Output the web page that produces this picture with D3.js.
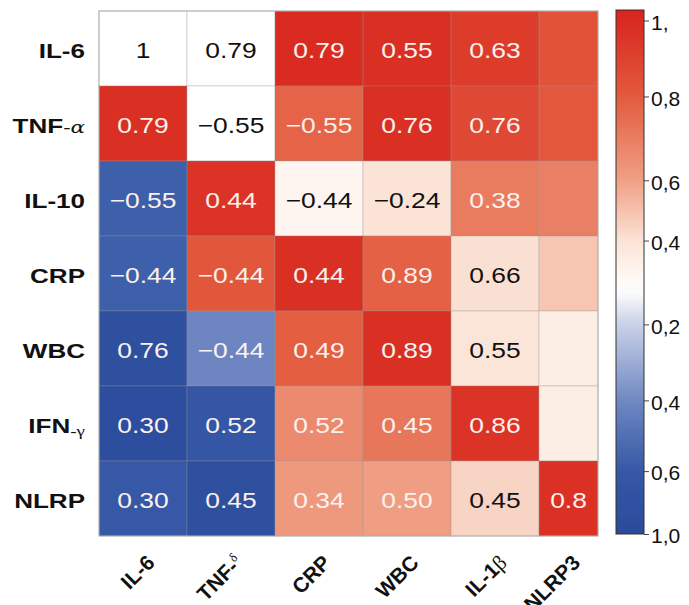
<!DOCTYPE html>
<html>
<head>
<meta charset="utf-8">
<script src="https://cdn.jsdelivr.net/npm/d3@7"></script>
<style>
  html, body { margin: 0; padding: 0; background: #ffffff; }
  svg { display: block; }
  text { font-family: "Liberation Sans", Arial, Helvetica, sans-serif; }
</style>
</head>
<body>
<div id="chart"></div>
<script>
// ---------------- DATA ----------------
const rowNames = ["IL-6", "TNF", "IL-10", "CRP", "WBC", "IFN", "NLRP"];
const rowSuffix = ["", "-α", "", "", "", "-γ", ""];
const colNames = ["IL-6", "TNF-", "CRP", "WBC", "IL-1", "NLRP3"];
const colSuffix = ["", "δ", "", "", "β", ""];

// printed numbers in each cell (row by row)
const cellLabels = [
  ["1", "0.79", "0.79", "0.55", "0.63", ""],
  ["0.79", "−0.55", "−0.55", "0.76", "0.76", ""],
  ["−0.55", "0.44", "−0.44", "−0.24", "0.38", ""],
  ["−0.44", "−0.44", "0.44", "0.89", "0.66", ""],
  ["0.76", "−0.44", "0.49", "0.89", "0.55", ""],
  ["0.30", "0.52", "0.52", "0.45", "0.86", ""],
  ["0.30", "0.45", "0.34", "0.50", "0.45", "0.8"]
];

// colour value of each cell
const cellColorValues = [
  [-0.07, -0.07, 0.95, 0.93, 0.85, 0.72],
  [0.93, -0.07, 0.63, 0.93, 0.78, 0.68],
  [-0.72, 0.90, 0.0, 0.12, 0.52, 0.50],
  [-0.72, 0.69, 0.93, 0.64, 0.13, 0.22],
  [-0.92, -0.50, 0.65, 0.93, 0.11, 0.05],
  [-0.95, -0.80, 0.45, 0.54, 0.90, 0.05],
  [-0.76, -0.92, 0.38, 0.36, 0.17, 0.92]
];

// colour bar ticks (positions in colour value units) and their printed labels
const barTickValues = [0.96, 0.67, 0.35, 0.12, -0.2, -0.49, -0.76, -1.0];
const barTickLabels = ["1,", "0,8", "0,6", "0,4", "0,2", "0,4", "0,6", "1,0"];

// colour ramp stops
const rampValues = [-1, -0.76, -0.49, -0.2, -0.07, 0.12, 0.35, 0.67, 1];
const rampColors = ["#2b4a9c", "#3658a6", "#6f88c2", "#c9d1e8", "#ffffff", "#fbe3d6", "#efa085", "#e35a3e", "#d8231c"];

// ---------------- LAYOUT ----------------
const W = 689, H = 605;
const plot = { left: 99, right: 598, top: 11, bottom: 536 };
const lastColWidth = 0.67;  // last column is narrower
const bar = { left: 616, right: 644, top: 10, bottom: 534 };

const svg = d3.select("#chart").append("svg")
  .attr("width", W).attr("height", H);

const color = d3.scaleLinear().domain(rampValues).range(rampColors).clamp(true);

const x = d3.scaleLinear()
  .domain([0, colNames.length - 1 + lastColWidth])
  .range([plot.left, plot.right]);
const colStart = i => x(i);
const colEnd = i => x(Math.min(i + 1, colNames.length - 1 + lastColWidth));

const y = d3.scaleBand()
  .domain(d3.range(rowNames.length))
  .range([plot.top, plot.bottom])
  .padding(0);

const cells = [];
cellColorValues.forEach((row, r) => row.forEach((v, c) => {
  cells.push({ r, c, v, label: cellLabels[r][c] });
}));

const g = svg.append("g");

g.selectAll("rect.cell").data(cells).join("rect")
  .attr("class", "cell")
  .attr("x", d => colStart(d.c))
  .attr("y", d => y(d.r))
  .attr("width", d => colEnd(d.c) - colStart(d.c))
  .attr("height", y.bandwidth())
  .attr("fill", d => color(d.v))
  .attr("stroke", "rgba(150,150,150,0.35)")
  .attr("stroke-width", 1);

// outer frame
g.append("rect")
  .attr("x", plot.left).attr("y", plot.top)
  .attr("width", plot.right - plot.left).attr("height", plot.bottom - plot.top)
  .attr("fill", "none").attr("stroke", "#b0b0b0").attr("stroke-width", 1);

// cell numbers
const stretch = 1.2;
g.selectAll("text.num").data(cells.filter(d => d.label !== "")).join("text")
  .attr("class", "num")
  .attr("transform", d => {
    const cx = (colStart(d.c) + colEnd(d.c)) / 2;
    const cy = y(d.r) + y.bandwidth() / 2 + 9.5;
    return `translate(${cx},${cy}) scale(${stretch},1)`;
  })
  .attr("text-anchor", "middle")
  .attr("font-size", 22)
  .attr("fill", d => (d.v > -0.3 && d.v < 0.28) ? "#111111" : "#fbf1ee")
  .text(d => d.label);

// row labels
const rowLab = g.selectAll("text.rowlab").data(rowNames).join("text")
  .attr("class", "rowlab")
  .attr("transform", (d, i) => `translate(85,${y(i) + y.bandwidth() / 2 + 9.5}) scale(1.27,1)`)
  .attr("text-anchor", "end")
  .attr("font-size", 20.5)
  .attr("font-weight", "bold")
  .attr("fill", "#111");
rowLab.append("tspan").text(d => d);
rowLab.append("tspan")
  .attr("font-weight", "normal")
  .attr("font-size", (d, i) => i === 5 ? 15 : 17)
  .attr("font-family", (d, i) => i === 1 ? "'DejaVu Serif', serif" : "'Liberation Serif', serif")
  .attr("font-style", (d, i) => i === 1 ? "italic" : "normal")
  .attr("dy", (d, i) => i === 5 ? 3 : 0)
  .text((d, i) => rowSuffix[i]);

// column labels (rotated)
const colLab = g.selectAll("text.collab").data(colNames).join("text")
  .attr("class", "collab")
  .attr("transform", (d, i) => {
    const cx = (colStart(i) + colEnd(i)) / 2 + 13;
    return `translate(${cx},564) rotate(-45)`;
  })
  .attr("text-anchor", "end")
  .attr("font-size", 21)
  .attr("font-weight", "bold")
  .attr("fill", "#111");
colLab.append("tspan").text(d => d);
colLab.append("tspan")
  .attr("font-weight", "normal")
  .attr("font-family", "'Liberation Serif', serif")
  .attr("font-size", (d, i) => i === 1 ? 13 : 21)
  .attr("dy", (d, i) => i === 1 ? -8 : 0)
  .text((d, i) => colSuffix[i]);

// ---------------- COLOUR BAR ----------------
const yBar = d3.scaleLinear().domain([1, -1]).range([bar.top, bar.bottom]);

const defs = svg.append("defs");
const grad = defs.append("linearGradient")
  .attr("id", "cbar").attr("x1", 0).attr("y1", 0).attr("x2", 0).attr("y2", 1);
const stops = d3.range(0, 1.0001, 0.02);
grad.selectAll("stop").data(stops).join("stop")
  .attr("offset", t => t)
  .attr("stop-color", t => color(yBar.invert(bar.top + t * (bar.bottom - bar.top))));

svg.append("rect")
  .attr("x", bar.left).attr("y", bar.top)
  .attr("width", bar.right - bar.left).attr("height", bar.bottom - bar.top)
  .attr("fill", "url(#cbar)")
  .attr("stroke", "#333").attr("stroke-width", 1);

const barAxis = d3.axisRight(yBar)
  .tickValues(barTickValues)
  .tickFormat((d, i) => barTickLabels[i])
  .tickSize(5)
  .tickPadding(2);

const ax = svg.append("g")
  .attr("transform", `translate(${bar.right},0)`)
  .call(barAxis);
ax.select(".domain").remove();
ax.selectAll(".tick line").attr("stroke", "#444");
ax.selectAll(".tick text")
  .attr("font-size", 21)
  .attr("font-family", "'Liberation Sans', Arial, sans-serif")
  .attr("fill", "#111")
  .attr("dy", "0.42em");
</script>
</body>
</html>
